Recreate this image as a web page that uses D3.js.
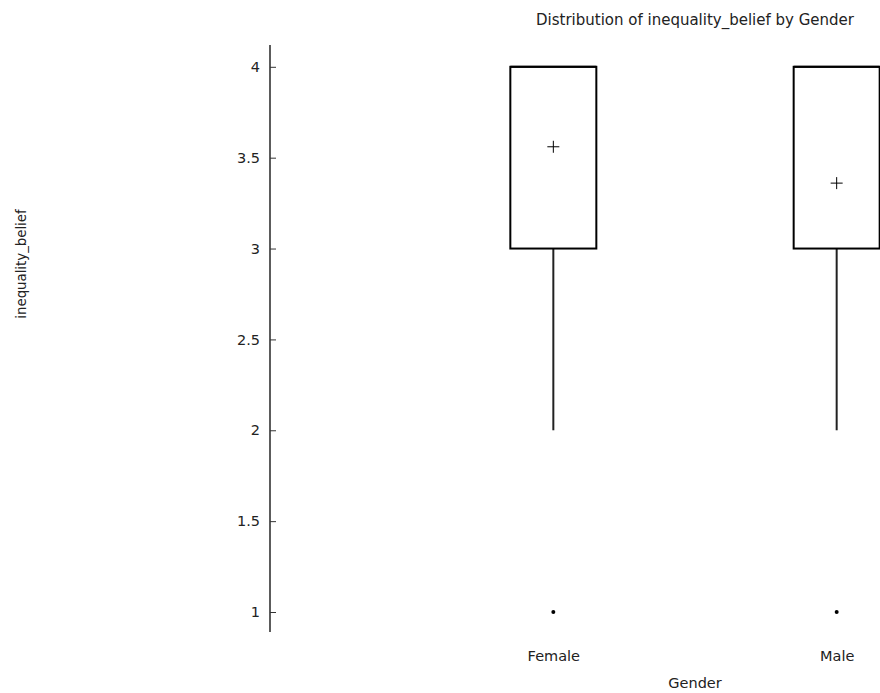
<!DOCTYPE html>
<html>
<head>
<meta charset="utf-8">
<script src="https://cdn.jsdelivr.net/npm/d3@7"></script>
<style>
body { margin: 0; background: #fff; }
svg { display: block; font-family: "DejaVu Sans", Verdana, sans-serif; }
</style>
</head>
<body>
<svg id="chart" width="880" height="693"></svg>
<script>
const categories = ["Female", "Male"];
const q1 = [3, 3];
const median = [4, 4];
const q3 = [4, 4];
const whiskerLow = [2, 2];
const whiskerHigh = [4, 4];
const means = [3.56, 3.36];
const outliers = [[1], [1]];
const yTicks = [1, 1.5, 2, 2.5, 3, 3.5, 4];

const FONT = "'DejaVu Sans', Verdana, sans-serif";
const svg = d3.select("#chart");
const x = d3.scalePoint().domain(categories).range([270, 1120]).padding(1);
const y = d3.scaleLinear().domain([0.89, 4.12]).range([632, 45]);
const boxW = 86;

const yAxis = svg.append("g").attr("transform", "translate(270,0)")
  .call(d3.axisRight(y).tickValues(yTicks).tickSize(6).tickFormat(d => String(d)));
yAxis.select(".domain").attr("stroke", "#333").attr("stroke-width", 1.6).attr("d", `M0,${y.range()[0]}V${y.range()[1]}`);
yAxis.selectAll(".tick line").attr("stroke", "#333");
yAxis.selectAll(".tick text").attr("x", -10).attr("text-anchor", "end").attr("font-size", 14.5).attr("fill", "#222").attr("font-family", FONT);

const xAxis = svg.append("g").attr("transform", "translate(0,632)")
  .call(d3.axisBottom(x).tickSize(0).tickPadding(0));
xAxis.select(".domain").remove();
xAxis.selectAll(".tick text").attr("dy", null).attr("y", 29).attr("font-size", 14.5).attr("fill", "#222").attr("font-family", FONT);

const g = svg.append("g");
categories.forEach((c, i) => {
  const cx = x(c);
  g.append("line").attr("x1", cx).attr("x2", cx).attr("y1", y(q1[i])).attr("y2", y(whiskerLow[i]))
    .attr("stroke", "#222").attr("stroke-width", 2);
  g.append("line").attr("x1", cx).attr("x2", cx).attr("y1", y(q3[i])).attr("y2", y(whiskerHigh[i]))
    .attr("stroke", "#222").attr("stroke-width", 2);
  g.append("rect").attr("x", cx - boxW / 2).attr("y", y(q3[i])).attr("width", boxW)
    .attr("height", y(q1[i]) - y(q3[i])).attr("fill", "none").attr("stroke", "#000").attr("stroke-width", 2);
  g.append("line").attr("x1", cx - boxW / 2).attr("x2", cx + boxW / 2).attr("y1", y(median[i])).attr("y2", y(median[i]))
    .attr("stroke", "#000").attr("stroke-width", 2);
  const my = y(means[i]);
  g.append("path").attr("d", `M${cx - 6},${my}H${cx + 6}M${cx},${my - 6}V${my + 6}`)
    .attr("stroke", "#000").attr("stroke-width", 1);
  outliers[i].forEach(v => {
    g.append("circle").attr("cx", cx).attr("cy", y(v)).attr("r", 2).attr("fill", "#000");
  });
});

svg.append("text").attr("x", 695).attr("y", 25).attr("text-anchor", "middle")
  .attr("font-size", 15).attr("fill", "#222").attr("font-family", FONT).text("Distribution of inequality_belief by Gender");
svg.append("text").attr("x", 695).attr("y", 688).attr("text-anchor", "middle")
  .attr("font-size", 14.5).attr("fill", "#222").attr("font-family", FONT).text("Gender");
svg.append("text").attr("transform", "translate(26,264) rotate(-90)").attr("text-anchor", "middle")
  .attr("font-size", 13.3).attr("fill", "#222").attr("font-family", FONT).text("inequality_belief");
</script>
</body>
</html>
